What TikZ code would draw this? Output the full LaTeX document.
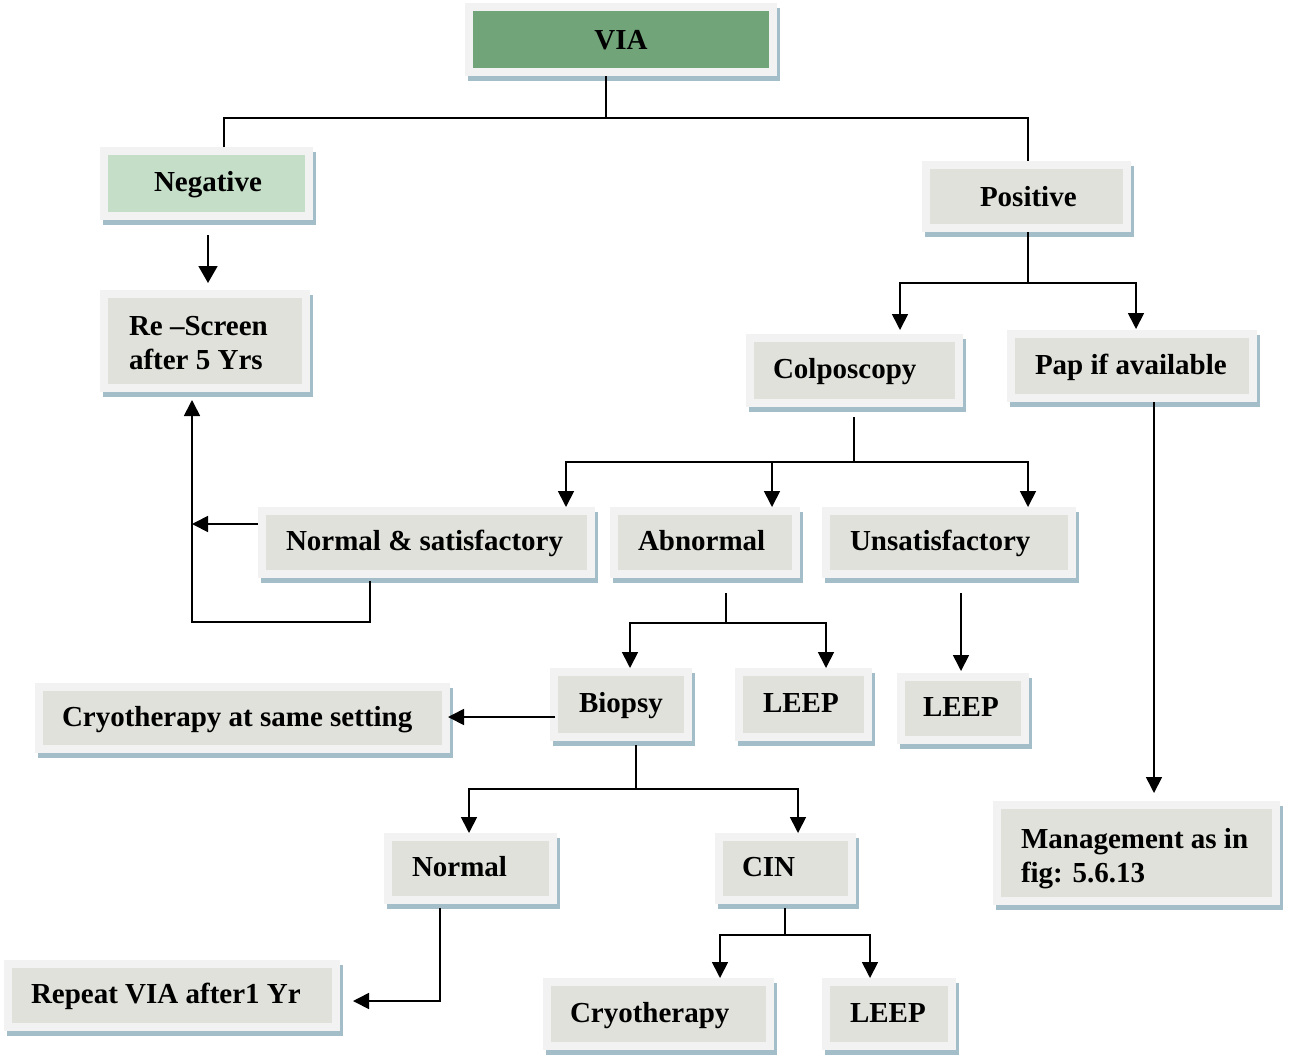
\documentclass[tikz,border=0pt]{standalone}
\usepackage{fontspec}
\setmainfont{Liberation Serif}
\usetikzlibrary{arrows.meta,shadows}
\definecolor{outerc}{RGB}{242,242,242}
\definecolor{grayc}{RGB}{225,225,219}
\definecolor{viac}{RGB}{113,165,121}
\definecolor{negc}{RGB}{197,222,199}
\definecolor{shadc}{RGB}{163,190,201}
\newcommand\mybox[8]{%
  \pgfmathsetmacro\bw{#4-#2}%
  \pgfmathsetmacro\bh{#5-#3}%
  \pgfmathsetmacro\tw{#4-#2-2*#6}%
  \pgfmathsetmacro\cx{(#2+#4)/2}%
  \pgfmathsetmacro\cy{(#3+#5)/2}%
  \node[box,#7,minimum width=\bw pt,minimum height=\bh pt] (#1) at (\cx,\cy) {\makebox[\tw pt][l]{#8}};%
}
\tikzset{
  innerfill/.store in=\boxinner, innerfill=grayc,
  box/.style={rectangle, inner sep=0pt, outer sep=0pt, fill=outerc,
    text height=22pt, text depth=6pt,
    font=\fontsize{29}{34}\selectfont\bfseries,
    general shadow={fill=shadc, shadow xshift=3pt, shadow yshift=-5pt},
    path picture={\fill[\boxinner] ([shift={(8pt,8pt)}]path picture bounding box.south west) rectangle ([shift={(-8pt,-8pt)}]path picture bounding box.north east);}},
  conn/.style={line width=1.7pt, black},
  arr/.style={conn, -{Triangle[length=16pt,width=16pt]}},
  bigarr/.style={conn, -{Triangle[length=17pt,width=19pt]}}
}
\begin{document}
\begin{tikzpicture}[x=1pt,y=-1pt]
\useasboundingbox (0,0) rectangle (1289,1057);
% boxes
\node[box,innerfill=viac,minimum width=312pt,minimum height=73pt] (via) at (621,39.5) {\raisebox{-2.5pt}{VIA}};
\mybox{neg}{100}{147}{313}{220}{54}{innerfill=negc}{Negative}
\mybox{rescreen}{100}{290}{310}{392}{29}{}{\raisebox{-3pt}{\begin{tabular}{@{}l@{}}Re –Screen\\after 5 Yrs\end{tabular}}}
\mybox{pos}{922}{161}{1131}{232}{58}{}{\raisebox{-1.5pt}{Positive}}
\mybox{colpo}{746}{334}{963}{407}{27}{}{Colposcopy}
\mybox{pap}{1007}{330}{1257}{402}{28}{}{Pap if available}
\mybox{ns}{258}{507}{595}{578}{28}{}{Normal \& satisfactory}
\mybox{abn}{610}{507}{800}{578}{28}{}{Abnormal}
\mybox{unsat}{822}{507}{1076}{578}{28}{}{Unsatisfactory}
\mybox{cryosame}{35}{683}{450}{753}{27}{}{Cryotherapy at same setting}
\mybox{biopsy}{550}{668}{692}{741}{29}{}{Biopsy}
\mybox{leepa}{735}{668}{872}{741}{28}{}{LEEP}
\mybox{leepb}{897}{673}{1029}{744}{26}{}{LEEP}
\mybox{mgmt}{993}{801}{1280}{905}{28}{}{\raisebox{-4pt}{\begin{tabular}{@{}l@{}}Management as in\\fig: 5.6.13\end{tabular}}}
\mybox{normal}{384}{833}{557}{904}{28}{}{Normal}
\mybox{cin}{715}{833}{856}{904}{27}{}{CIN}
\mybox{repeat}{4}{960}{340}{1031}{27}{}{Repeat VIA after1 Yr}
\mybox{cryo}{543}{978}{774}{1050}{27}{}{Cryotherapy}
\mybox{leepc}{822}{978}{956}{1050}{28}{}{LEEP}
% connectors
\draw[conn] ([xshift=-15pt]via.south) -- ++(0,42) coordinate (j1);
\draw[conn] ([xshift=17.5pt]neg.north) |- (j1) -| ([xshift=1.5pt]pos.north);
\draw[bigarr] ([xshift=1.5pt,yshift=-15pt]neg.south) -- ([xshift=3pt,yshift=7pt]rescreen.north);
\draw[conn] ([xshift=1.5pt]pos.south) -- ++(0,51) coordinate (j2);
\draw[arr] (j2) -| ([xshift=45.5pt,yshift=4pt]colpo.north);
\draw[arr] (j2) -| ([xshift=4pt,yshift=1pt]pap.north);
\draw[conn] ([xshift=-0.5pt,yshift=-10pt]colpo.south) -- ++(0,45) coordinate (j3);
\draw[arr] (j3) -| ([xshift=139.5pt]ns.north);
\draw[arr] (j3) -| ([xshift=67pt]abn.north);
\draw[arr] (j3) -| ([xshift=79pt]unsat.north);
\draw[arr] ([yshift=18.5pt]ns.west) -- ++(-66,0);
\draw[arr] ([xshift=-56.5pt,yshift=-3pt]ns.south) -- ++(0,41) -| ([xshift=-13pt,yshift=-8pt]rescreen.south);
\draw[conn] ([xshift=21pt,yshift=-15pt]abn.south) -- ++(0,30) coordinate (j4);
\draw[arr] (j4) -| ([xshift=9pt]biopsy.north);
\draw[arr] (j4) -| ([xshift=22.5pt]leepa.north);
\draw[arr] ([xshift=12pt,yshift=-15pt]unsat.south) -- ([xshift=-2pt,yshift=2pt]leepb.north);
\draw[arr] ([xshift=22pt]pap.south) -- ([xshift=17.5pt,yshift=8pt]mgmt.north);
\draw[arr] ([xshift=5pt,yshift=-12.5pt]biopsy.west) -- ([xshift=-2pt,yshift=1pt]cryosame.east);
\draw[conn] ([xshift=15pt,yshift=-4pt]biopsy.south) -- ++(0,44) coordinate (j5);
\draw[arr] (j5) -| ([xshift=-1.5pt]normal.north);
\draw[arr] (j5) -| ([xshift=12.5pt]cin.north);
\draw[arr] ([xshift=-30.5pt,yshift=-4pt]normal.south) |- ([xshift=13pt,yshift=-5.5pt]repeat.east);
\draw[conn] ([xshift=-0.5pt,yshift=-4pt]cin.south) -- ++(0,27) coordinate (j6);
\draw[arr] (j6) -| ([xshift=61.5pt]cryo.north);
\draw[arr] (j6) -| ([xshift=-19pt]leepc.north);
\end{tikzpicture}
\end{document}
